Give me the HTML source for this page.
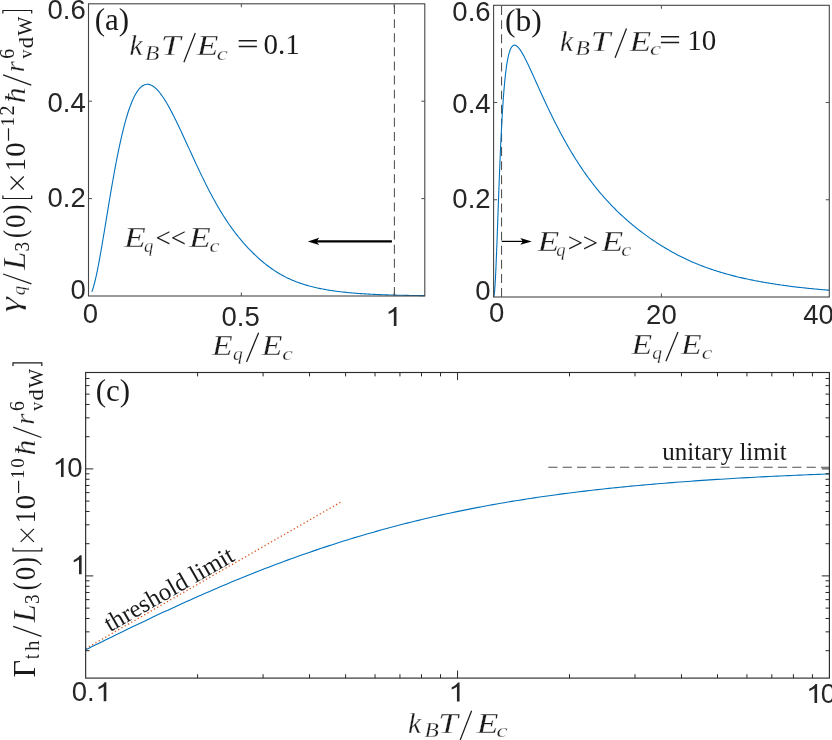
<!DOCTYPE html>
<html><head><meta charset="utf-8"><title>fig</title><style>html,body{margin:0;padding:0;background:#fff}svg{display:block;will-change:transform}</style></head><body>
<svg width="832" height="740" viewBox="0 0 832 740">
<rect width="832" height="740" fill="#fff"/>
<g id="pa">
<path d="M394.4 296 V3.8" stroke="#505050" stroke-width="1.05" stroke-dasharray="8.95 5.15" fill="none"/>
<path d="M91.8 291.74 L92.5 289.89 L93.2 287.75 L93.9 285.37 L94.6 282.74 L95.3 279.9 L96 276.86 L96.7 273.65 L97.4 270.27 L98.09 266.75 L98.79 263.09 L99.49 259.33 L100.19 255.46 L100.89 251.5 L101.59 247.47 L102.29 243.38 L102.99 239.23 L103.69 235.04 L104.39 230.83 L105.09 226.59 L105.79 222.34 L106.48 218.08 L107.18 213.83 L107.88 209.59 L108.58 205.37 L109.28 201.17 L109.98 197.01 L110.68 192.88 L111.38 188.8 L112.08 184.76 L112.78 180.77 L113.48 176.85 L114.18 172.98 L114.87 169.17 L115.57 165.44 L116.27 161.77 L116.97 158.18 L117.67 154.66 L118.37 151.22 L119.07 147.86 L120.09 143.1 L121.11 138.52 L122.14 134.12 L123.16 129.91 L124.18 125.9 L125.2 122.07 L126.23 118.44 L127.25 115 L128.27 111.76 L129.29 108.72 L130.32 105.86 L131.34 103.2 L132.36 100.72 L133.38 98.44 L134.41 96.33 L135.43 94.42 L136.45 92.68 L137.47 91.11 L138.5 89.72 L139.52 88.5 L140.54 87.44 L141.56 86.54 L142.59 85.8 L143.61 85.21 L144.63 84.77 L145.65 84.48 L146.68 84.32 L147.7 84.3 L148.72 84.41 L149.74 84.65 L150.76 85.01 L151.79 85.48 L152.81 86.07 L153.83 86.77 L154.85 87.57 L155.88 88.47 L156.9 89.46 L157.92 90.55 L158.94 91.72 L159.97 92.98 L160.99 94.32 L162.01 95.73 L163.03 97.21 L164.06 98.76 L165.08 100.37 L166.1 102.04 L167.12 103.77 L168.15 105.55 L169.17 107.38 L170.19 109.26 L171.21 111.18 L172.24 113.13 L173.26 115.13 L174.28 117.16 L175.3 119.22 L176.32 121.3 L177.35 123.42 L178.37 125.55 L179.39 127.71 L180.41 129.88 L181.44 132.07 L182.46 134.27 L183.48 136.48 L184.5 138.7 L185.53 140.93 L186.55 143.16 L187.57 145.4 L188.59 147.63 L189.62 149.87 L190.64 152.1 L191.66 154.33 L192.68 156.56 L193.71 158.78 L194.73 160.99 L195.75 163.19 L196.77 165.38 L197.8 167.56 L198.82 169.72 L199.84 171.87 L200.86 174.01 L201.89 176.13 L202.91 178.23 L203.93 180.32 L204.95 182.38 L205.97 184.43 L207 186.45 L208.02 188.46 L209.04 190.44 L210.06 192.4 L211.09 194.34 L212.11 196.25 L213.13 198.14 L214.15 200.01 L215.18 201.85 L216.2 203.67 L217.22 205.46 L218.24 207.23 L219.27 208.97 L220.29 210.68 L221.31 212.37 L222.33 214.03 L223.36 215.67 L224.38 217.28 L225.4 218.87 L226.42 220.42 L227.45 221.96 L228.47 223.47 L229.49 224.95 L230.51 226.41 L231.53 227.84 L232.56 229.25 L233.58 230.64 L234.6 232 L235.62 233.34 L236.65 234.65 L237.67 235.95 L238.69 237.22 L239.71 238.47 L240.74 239.7 L241.76 240.91 L242.78 242.1 L243.8 243.27 L244.83 244.42 L245.85 245.55 L246.87 246.67 L247.89 247.77 L248.92 248.84 L249.94 249.91 L250.96 250.95 L251.98 251.98 L253.01 252.99 L254.03 253.99 L255.05 254.97 L256.07 255.93 L257.1 256.88 L258.12 257.81 L259.14 258.73 L260.16 259.63 L261.18 260.51 L262.21 261.38 L263.23 262.24 L264.25 263.08 L265.27 263.9 L266.3 264.71 L267.32 265.5 L268.34 266.28 L269.36 267.04 L270.39 267.78 L271.41 268.51 L272.43 269.22 L273.45 269.92 L274.48 270.61 L275.5 271.27 L276.52 271.93 L277.54 272.56 L278.57 273.18 L279.59 273.79 L280.61 274.38 L281.63 274.96 L282.66 275.52 L283.68 276.07 L284.7 276.61 L285.72 277.13 L286.74 277.64 L287.77 278.13 L288.79 278.61 L289.81 279.08 L290.83 279.54 L291.86 279.99 L292.88 280.42 L293.9 280.84 L294.92 281.25 L295.95 281.65 L296.97 282.04 L297.99 282.42 L299.01 282.78 L300.04 283.14 L301.06 283.49 L302.08 283.83 L303.1 284.16 L304.13 284.48 L305.15 284.8 L306.17 285.1 L307.19 285.4 L308.22 285.69 L309.24 285.97 L310.26 286.24 L311.28 286.51 L312.31 286.77 L313.33 287.02 L314.35 287.27 L315.37 287.51 L316.39 287.74 L317.42 287.97 L318.44 288.19 L319.46 288.4 L320.48 288.61 L321.51 288.82 L322.53 289.02 L323.55 289.21 L324.57 289.4 L325.6 289.58 L326.62 289.76 L327.64 289.93 L328.66 290.1 L329.69 290.27 L330.71 290.43 L331.73 290.58 L332.75 290.74 L333.78 290.88 L334.8 291.03 L335.82 291.17 L336.84 291.3 L337.87 291.44 L338.89 291.56 L339.91 291.69 L340.93 291.81 L341.95 291.93 L342.98 292.05 L344 292.16 L345.02 292.27 L346.04 292.37 L347.07 292.48 L348.09 292.58 L349.11 292.68 L350.13 292.77 L351.16 292.86 L352.18 292.95 L353.2 293.04 L354.22 293.13 L355.25 293.21 L356.27 293.29 L357.29 293.37 L358.31 293.44 L359.34 293.52 L360.36 293.59 L361.38 293.66 L362.4 293.73 L363.43 293.79 L364.45 293.86 L365.47 293.92 L366.49 293.98 L367.52 294.04 L368.54 294.09 L369.56 294.15 L370.58 294.2 L371.6 294.26 L372.63 294.31 L373.65 294.36 L374.67 294.4 L375.69 294.45 L376.72 294.5 L377.74 294.54 L378.76 294.58 L379.78 294.63 L380.81 294.67 L381.83 294.71 L382.85 294.74 L383.87 294.78 L384.9 294.82 L385.92 294.85 L386.94 294.89 L387.96 294.92 L388.99 294.95 L390.01 294.98 L391.03 295.01 L392.05 295.04 L393.08 295.07 L394.1 295.1 L395.12 295.12 L396.14 295.15 L397.16 295.18 L398.19 295.2 L399.21 295.22 L400.23 295.25 L401.25 295.27 L402.28 295.29 L403.3 295.31 L404.32 295.33 L405.34 295.35 L406.37 295.37 L407.39 295.39 L408.41 295.41 L409.43 295.43 L410.46 295.44 L411.48 295.46 L412.5 295.48 L413.52 295.49 L414.55 295.51 L415.57 295.52 L416.59 295.54 L417.61 295.55 L418.64 295.57 L419.66 295.58 L420.68 295.59 L421.7 295.6 L422.73 295.62 L423.75 295.63 L424.77 295.64" stroke="#0072BD" stroke-width="1.1" fill="none" stroke-linejoin="round"/>
<rect x="88.5" y="3.8" width="336.3" height="292.2" fill="none" stroke="#454545" stroke-width="1.1"/>
<path d="M241.35 296 v-3.5 M241.35 3.8 v3.5 M394.2 296 v-3.5 M394.2 3.8 v3.5 M88.5 198.6 h3.5 M424.8 198.6 h-3.5 M88.5 101.2 h3.5 M424.8 101.2 h-3.5" stroke="#4d4d4d" stroke-width="1.0" fill="none"/>
</g>
<g id="pb">
<path d="M501.55 297 V5.3" stroke="#505050" stroke-width="1.05" stroke-dasharray="8.95 5.15" fill="none"/>
<path d="M493.68 296.96 L493.89 296.48 L494.11 295.49 L494.32 293.99 L494.53 292.01 L494.74 289.55 L494.95 286.64 L495.16 283.32 L495.37 279.6 L495.58 275.53 L495.79 271.13 L496 266.44 L496.21 261.48 L496.42 256.3 L496.64 250.93 L496.85 245.41 L497.06 239.75 L497.27 234 L497.48 228.17 L497.69 222.31 L497.9 216.43 L498.11 210.56 L498.32 204.71 L498.53 198.9 L498.74 193.16 L498.95 187.5 L499.16 181.93 L499.38 176.46 L499.59 171.1 L499.8 165.86 L500.01 160.75 L500.22 155.76 L500.43 150.92 L500.64 146.21 L500.85 141.65 L501.06 137.22 L501.27 132.94 L501.48 128.8 L501.69 124.81 L501.91 120.95 L502.12 117.23 L502.33 113.65 L502.54 110.21 L502.75 106.89 L502.96 103.71 L503.17 100.65 L503.38 97.71 L503.59 94.9 L503.8 92.2 L504.01 89.61 L504.22 87.13 L504.44 84.76 L504.65 82.49 L504.86 80.33 L505.07 78.25 L505.28 76.27 L505.49 74.38 L505.7 72.58 L505.91 70.86 L506.12 69.22 L506.33 67.66 L506.54 66.17 L506.75 64.76 L506.96 63.41 L507.18 62.14 L507.39 60.92 L507.6 59.77 L507.81 58.68 L508.02 57.65 L508.23 56.67 L508.44 55.75 L508.65 54.87 L508.86 54.05 L509.07 53.27 L509.28 52.54 L509.49 51.86 L509.71 51.21 L509.92 50.61 L510.13 50.05 L510.34 49.52 L510.55 49.03 L510.76 48.58 L510.97 48.16 L511.18 47.77 L511.39 47.41 L511.6 47.09 L511.81 46.79 L512.02 46.52 L512.23 46.28 L512.45 46.06 L512.66 45.87 L512.87 45.71 L513.08 45.56 L513.29 45.44 L513.5 45.34 L513.71 45.26 L513.92 45.21 L514.13 45.17 L514.34 45.15 L514.55 45.14 L514.76 45.16 L514.98 45.19 L515.19 45.24 L515.4 45.3 L515.61 45.38 L515.82 45.47 L516.03 45.58 L516.24 45.7 L516.45 45.83 L516.66 45.98 L516.87 46.13 L517.08 46.3 L517.29 46.48 L517.51 46.68 L517.72 46.88 L517.93 47.09 L518.14 47.31 L518.35 47.54 L518.56 47.79 L518.77 48.03 L519.81 49.38 L520.85 50.91 L521.88 52.57 L522.92 54.37 L523.96 56.26 L525 58.24 L526.04 60.3 L527.08 62.41 L528.11 64.57 L529.15 66.77 L530.19 69.01 L531.23 71.26 L532.27 73.54 L533.31 75.83 L534.34 78.13 L535.38 80.44 L536.42 82.75 L537.46 85.06 L538.5 87.36 L539.53 89.66 L540.57 91.95 L541.61 94.23 L542.65 96.5 L543.69 98.75 L544.73 100.99 L545.76 103.22 L546.8 105.43 L547.84 107.63 L548.88 109.81 L549.92 111.97 L550.96 114.11 L551.99 116.23 L553.03 118.33 L554.07 120.42 L555.11 122.48 L556.15 124.52 L557.18 126.54 L558.22 128.55 L559.26 130.53 L560.3 132.49 L561.34 134.43 L562.38 136.35 L563.41 138.25 L564.45 140.13 L565.49 141.98 L566.53 143.82 L567.57 145.63 L568.6 147.43 L569.64 149.2 L570.68 150.96 L571.72 152.69 L572.76 154.4 L573.8 156.09 L574.83 157.77 L575.87 159.42 L576.91 161.05 L577.95 162.66 L578.99 164.26 L580.03 165.83 L581.06 167.39 L582.1 168.92 L583.14 170.44 L584.18 171.94 L585.22 173.42 L586.25 174.88 L587.29 176.33 L588.33 177.75 L589.37 179.16 L590.41 180.55 L591.45 181.92 L592.48 183.28 L593.52 184.62 L594.56 185.94 L595.6 187.25 L596.64 188.54 L597.68 189.82 L598.71 191.08 L599.75 192.32 L600.79 193.55 L601.83 194.76 L602.87 195.96 L603.9 197.14 L604.94 198.31 L605.98 199.47 L607.02 200.61 L608.06 201.73 L609.1 202.85 L610.13 203.95 L611.17 205.04 L612.21 206.11 L613.25 207.17 L614.29 208.22 L615.33 209.26 L616.36 210.28 L617.4 211.3 L618.44 212.3 L619.48 213.29 L620.52 214.27 L621.55 215.24 L622.59 216.2 L623.63 217.14 L624.67 218.08 L625.71 219.01 L626.75 219.93 L627.78 220.83 L628.82 221.73 L629.86 222.62 L630.9 223.5 L631.94 224.37 L632.98 225.23 L634.01 226.08 L635.05 226.92 L636.09 227.75 L637.13 228.58 L638.17 229.4 L639.2 230.2 L640.24 231 L641.28 231.8 L642.32 232.58 L643.36 233.36 L644.4 234.13 L645.43 234.89 L646.47 235.64 L647.51 236.39 L648.55 237.13 L649.59 237.86 L650.62 238.58 L651.66 239.3 L652.7 240.01 L653.74 240.71 L654.78 241.4 L655.82 242.09 L656.85 242.77 L657.89 243.44 L658.93 244.11 L659.97 244.77 L661.01 245.42 L662.05 246.07 L663.08 246.71 L664.12 247.34 L665.16 247.96 L666.2 248.58 L667.24 249.19 L668.27 249.8 L669.31 250.39 L670.35 250.99 L671.39 251.57 L672.43 252.15 L673.47 252.72 L674.5 253.28 L675.54 253.84 L676.58 254.39 L677.62 254.93 L678.66 255.47 L679.7 256 L680.73 256.53 L681.77 257.05 L682.81 257.56 L683.85 258.06 L684.89 258.56 L685.92 259.06 L686.96 259.54 L688 260.02 L689.04 260.5 L690.08 260.96 L691.12 261.43 L692.15 261.88 L693.19 262.33 L694.23 262.78 L695.27 263.21 L696.31 263.65 L697.35 264.07 L698.38 264.49 L699.42 264.91 L700.46 265.32 L701.5 265.72 L702.54 266.12 L703.57 266.52 L704.61 266.9 L705.65 267.29 L706.69 267.66 L707.73 268.04 L708.77 268.4 L709.8 268.77 L710.84 269.12 L711.88 269.48 L712.92 269.83 L713.96 270.17 L714.99 270.51 L716.03 270.84 L717.07 271.17 L718.11 271.5 L719.15 271.82 L720.19 272.13 L721.22 272.44 L722.26 272.75 L723.3 273.06 L724.34 273.36 L725.38 273.65 L726.42 273.94 L727.45 274.23 L728.49 274.52 L729.53 274.8 L730.57 275.07 L731.61 275.35 L732.64 275.62 L733.68 275.88 L734.72 276.14 L735.76 276.4 L736.8 276.66 L737.84 276.91 L738.87 277.16 L739.91 277.41 L740.95 277.65 L741.99 277.89 L743.03 278.13 L744.07 278.36 L745.1 278.59 L746.14 278.82 L747.18 279.04 L748.22 279.26 L749.26 279.48 L750.29 279.7 L751.33 279.91 L752.37 280.12 L753.41 280.33 L754.45 280.54 L755.49 280.74 L756.52 280.94 L757.56 281.14 L758.6 281.33 L759.64 281.53 L760.68 281.72 L761.72 281.91 L762.75 282.09 L763.79 282.28 L764.83 282.46 L765.87 282.64 L766.91 282.81 L767.94 282.99 L768.98 283.16 L770.02 283.33 L771.06 283.5 L772.1 283.66 L773.14 283.83 L774.17 283.99 L775.21 284.15 L776.25 284.31 L777.29 284.46 L778.33 284.62 L779.37 284.77 L780.4 284.92 L781.44 285.07 L782.48 285.22 L783.52 285.36 L784.56 285.5 L785.59 285.65 L786.63 285.79 L787.67 285.92 L788.71 286.06 L789.75 286.19 L790.79 286.33 L791.82 286.46 L792.86 286.59 L793.9 286.72 L794.94 286.84 L795.98 286.97 L797.01 287.09 L798.05 287.21 L799.09 287.33 L800.13 287.45 L801.17 287.57 L802.21 287.68 L803.24 287.8 L804.28 287.91 L805.32 288.02 L806.36 288.13 L807.4 288.24 L808.44 288.35 L809.47 288.46 L810.51 288.56 L811.55 288.67 L812.59 288.77 L813.63 288.87 L814.66 288.97 L815.7 289.07 L816.74 289.17 L817.78 289.26 L818.82 289.36 L819.86 289.45 L820.89 289.54 L821.93 289.64 L822.97 289.73 L824.01 289.82 L825.05 289.9 L826.09 289.99 L827.12 290.08 L828.16 290.16 L829.2 290.25" stroke="#0072BD" stroke-width="1.1" fill="none" stroke-linejoin="round"/>
<rect x="493.6" y="5.3" width="335.7" height="291.7" fill="none" stroke="#454545" stroke-width="1.1"/>
<path d="M661.4 297 v-3.5 M661.4 5.3 v3.5 M493.6 199.76 h3.5 M829.3 199.76 h-3.5 M493.6 102.52 h3.5 M829.3 102.52 h-3.5" stroke="#4d4d4d" stroke-width="1.0" fill="none"/>
</g>
<g id="pc">
<path d="M548.3 467.3 H829.4" stroke="#505050" stroke-width="1.05" stroke-dasharray="9.2 5.15" fill="none"/>
<path d="M85.65 648.6 L340.6 502.2" stroke="#D95319" stroke-width="1.3" stroke-dasharray="1.3 2.45" fill="none"/>
<path d="M85.65 649.76 L89.39 647.91 L93.12 646.07 L96.86 644.23 L100.6 642.39 L104.34 640.55 L108.07 638.72 L111.81 636.89 L115.55 635.07 L119.29 633.25 L123.02 631.43 L126.76 629.62 L130.5 627.82 L134.24 626.02 L137.97 624.22 L141.71 622.44 L145.45 620.66 L149.19 618.88 L152.92 617.12 L156.66 615.36 L160.4 613.61 L164.14 611.86 L167.87 610.13 L171.61 608.4 L175.35 606.69 L179.09 604.98 L182.82 603.28 L186.56 601.59 L190.3 599.91 L194.04 598.24 L197.77 596.58 L201.51 594.93 L205.25 593.29 L208.99 591.66 L212.72 590.04 L216.46 588.43 L220.2 586.84 L223.94 585.25 L227.67 583.68 L231.41 582.11 L235.15 580.56 L238.88 579.02 L242.62 577.5 L246.36 575.98 L250.1 574.48 L253.83 572.99 L257.57 571.51 L261.31 570.05 L265.05 568.59 L268.78 567.15 L272.52 565.72 L276.26 564.31 L280 562.91 L283.73 561.52 L287.47 560.14 L291.21 558.78 L294.95 557.43 L298.68 556.09 L302.42 554.77 L306.16 553.46 L309.9 552.16 L313.63 550.88 L317.37 549.61 L321.11 548.35 L324.85 547.11 L328.58 545.88 L332.32 544.66 L336.06 543.46 L339.8 542.27 L343.53 541.1 L347.27 539.93 L351.01 538.78 L354.75 537.65 L358.48 536.53 L362.22 535.42 L365.96 534.32 L369.7 533.24 L373.43 532.17 L377.17 531.11 L380.91 530.07 L384.64 529.04 L388.38 528.03 L392.12 527.02 L395.86 526.03 L399.59 525.06 L403.33 524.09 L407.07 523.14 L410.81 522.2 L414.54 521.28 L418.28 520.36 L422.02 519.46 L425.76 518.57 L429.49 517.7 L433.23 516.83 L436.97 515.98 L440.71 515.15 L444.44 514.32 L448.18 513.5 L451.92 512.7 L455.66 511.91 L459.39 511.13 L463.13 510.36 L466.87 509.61 L470.61 508.86 L474.34 508.13 L478.08 507.41 L481.82 506.7 L485.56 506 L489.29 505.31 L493.03 504.63 L496.77 503.97 L500.51 503.31 L504.24 502.67 L507.98 502.03 L511.72 501.41 L515.46 500.79 L519.19 500.19 L522.93 499.59 L526.67 499.01 L530.41 498.43 L534.14 497.87 L537.88 497.31 L541.62 496.76 L545.35 496.23 L549.09 495.7 L552.83 495.18 L556.57 494.67 L560.3 494.17 L564.04 493.67 L567.78 493.19 L571.52 492.71 L575.25 492.25 L578.99 491.79 L582.73 491.33 L586.47 490.89 L590.2 490.45 L593.94 490.03 L597.68 489.61 L601.42 489.19 L605.15 488.79 L608.89 488.39 L612.63 487.99 L616.37 487.61 L620.1 487.23 L623.84 486.86 L627.58 486.49 L631.32 486.14 L635.05 485.78 L638.79 485.44 L642.53 485.1 L646.27 484.76 L650 484.44 L653.74 484.11 L657.48 483.8 L661.22 483.49 L664.95 483.18 L668.69 482.88 L672.43 482.59 L676.17 482.3 L679.9 482.01 L683.64 481.73 L687.38 481.46 L691.11 481.19 L694.85 480.92 L698.59 480.66 L702.33 480.41 L706.06 480.15 L709.8 479.91 L713.54 479.66 L717.28 479.42 L721.01 479.19 L724.75 478.96 L728.49 478.73 L732.23 478.51 L735.96 478.29 L739.7 478.07 L743.44 477.86 L747.18 477.66 L750.91 477.45 L754.65 477.25 L758.39 477.05 L762.13 476.86 L765.86 476.67 L769.6 476.48 L773.34 476.3 L777.08 476.12 L780.81 475.94 L784.55 475.77 L788.29 475.6 L792.03 475.43 L795.76 475.27 L799.5 475.11 L803.24 474.95 L806.98 474.8 L810.71 474.65 L814.45 474.5 L818.19 474.35 L821.93 474.21 L825.66 474.07 L829.4 473.94" stroke="#0072BD" stroke-width="1.1" fill="none" stroke-linejoin="round"/>
<rect x="85.65" y="372.5" width="743.75" height="305.6" fill="none" stroke="#2b2b2b" stroke-width="1.15"/>
<path d="M197.6 678.1 v-3.9 M197.6 372.5 v3.9 M263.09 678.1 v-3.9 M263.09 372.5 v3.9 M309.56 678.1 v-3.9 M309.56 372.5 v3.9 M345.6 678.1 v-3.9 M345.6 372.5 v3.9 M375.04 678.1 v-3.9 M375.04 372.5 v3.9 M399.94 678.1 v-3.9 M399.94 372.5 v3.9 M421.51 678.1 v-3.9 M421.51 372.5 v3.9 M440.53 678.1 v-3.9 M440.53 372.5 v3.9 M457.55 678.1 v-7.6 M457.55 372.5 v7.6 M569.5 678.1 v-3.9 M569.5 372.5 v3.9 M634.99 678.1 v-3.9 M634.99 372.5 v3.9 M681.46 678.1 v-3.9 M681.46 372.5 v3.9 M717.5 678.1 v-3.9 M717.5 372.5 v3.9 M746.94 678.1 v-3.9 M746.94 372.5 v3.9 M771.84 678.1 v-3.9 M771.84 372.5 v3.9 M793.41 678.1 v-3.9 M793.41 372.5 v3.9 M812.43 678.1 v-3.9 M812.43 372.5 v3.9 M85.65 650.69 h3.9 M829.4 650.69 h-3.9 M85.65 631.85 h3.9 M829.4 631.85 h-3.9 M85.65 618.48 h3.9 M829.4 618.48 h-3.9 M85.65 608.11 h3.9 M829.4 608.11 h-3.9 M85.65 599.64 h3.9 M829.4 599.64 h-3.9 M85.65 592.47 h3.9 M829.4 592.47 h-3.9 M85.65 586.27 h3.9 M829.4 586.27 h-3.9 M85.65 580.8 h3.9 M829.4 580.8 h-3.9 M85.65 575.9 h7.6 M829.4 575.9 h-7.6 M85.65 543.69 h3.9 M829.4 543.69 h-3.9 M85.65 524.85 h3.9 M829.4 524.85 h-3.9 M85.65 511.48 h3.9 M829.4 511.48 h-3.9 M85.65 501.11 h3.9 M829.4 501.11 h-3.9 M85.65 492.64 h3.9 M829.4 492.64 h-3.9 M85.65 485.47 h3.9 M829.4 485.47 h-3.9 M85.65 479.27 h3.9 M829.4 479.27 h-3.9 M85.65 473.8 h3.9 M829.4 473.8 h-3.9 M85.65 468.9 h7.6 M829.4 468.9 h-7.6 M85.65 436.69 h3.9 M829.4 436.69 h-3.9 M85.65 417.85 h3.9 M829.4 417.85 h-3.9 M85.65 404.48 h3.9 M829.4 404.48 h-3.9 M85.65 394.11 h3.9 M829.4 394.11 h-3.9 M85.65 385.64 h3.9 M829.4 385.64 h-3.9 M85.65 378.47 h3.9 M829.4 378.47 h-3.9" stroke="#262626" stroke-width="1" fill="none"/>
</g>
<g font-family="'Liberation Sans', sans-serif" font-size="27.5" fill="#262626">
<text x="47.47" y="18.5">0.6</text>
<text x="47.47" y="111.8">0.4</text>
<text x="47.47" y="206.8">0.2</text>
<text x="70.41" y="299.2">0</text>
<text x="82.85" y="323.3">0</text>
<text x="221.49" y="326.2">0.5</text>
<path transform="translate(385.35 326) scale(0.01455 -0.01286)" d="M763 0H583V1147Q518 1085 412.5 1023T223 930V1104Q374 1175 487 1276T647 1472H763Z"/>
<text x="452.37" y="20.5">0.6</text>
<text x="452.37" y="112.9">0.4</text>
<text x="452.37" y="207.8">0.2</text>
<text x="475.31" y="300.2">0</text>
<text x="488.95" y="321.8">0</text>
<text x="646.11" y="324">20</text>
<text x="803.3" y="324">40</text>
<path transform="translate(52.51 477) scale(0.01455 -0.01286)" d="M763 0H583V1147Q518 1085 412.5 1023T223 930V1104Q374 1175 487 1276T647 1472H763Z"/>
<text x="67.31" y="477">0</text>
<path transform="translate(70.51 574.2) scale(0.01455 -0.01286)" d="M763 0H583V1147Q518 1085 412.5 1023T223 930V1104Q374 1175 487 1276T647 1472H763Z"/>
<text x="71.8" y="701.2">0.</text>
<path transform="translate(95.23 701.2) scale(0.01455 -0.01286)" d="M763 0H583V1147Q518 1085 412.5 1023T223 930V1104Q374 1175 487 1276T647 1472H763Z"/>
<path transform="translate(448.45 701.4) scale(0.01455 -0.01286)" d="M763 0H583V1147Q518 1085 412.5 1023T223 930V1104Q374 1175 487 1276T647 1472H763Z"/>
<path transform="translate(806 703) scale(0.01455 -0.01286)" d="M763 0H583V1147Q518 1085 412.5 1023T223 930V1104Q374 1175 487 1276T647 1472H763Z"/>
<text x="820.79" y="703">0</text>
</g>
<g fill="#1a1a1a">
<text x="94.64" y="29.5" font-family="'Liberation Serif', serif" font-size="31">(a)</text>
<text x="504.92" y="31" font-family="'Liberation Serif', serif" font-size="31.5">(b)</text>
<text x="95.74" y="401.3" font-family="'Liberation Serif', serif" font-size="31">(c)</text>
<text x="129.45" y="55" font-family="'Liberation Serif', serif" font-size="29.5" font-style="italic" stroke="#fff" stroke-width="0.27">k</text>
<text transform="translate(144.88 59.6) scale(1.0914 1)" font-family="'Liberation Serif', serif" font-size="21.5" font-style="italic" stroke="#fff" stroke-width="0.27">B</text>
<text transform="translate(161.09 55) scale(1.1961 1)" font-family="'Liberation Serif', serif" font-size="29.5" font-style="italic" stroke="#fff" stroke-width="0.27">T</text>
<path d="M183.9 62.23 L195.3 33.02" stroke="#1a1a1a" stroke-width="1.25" fill="none"/>
<text transform="translate(196.82 55) scale(1.2018 1)" font-family="'Liberation Serif', serif" font-size="29.5" font-style="italic" stroke="#fff" stroke-width="0.27">E</text>
<text transform="translate(216.84 59.6) scale(1.2746 1)" font-family="'Liberation Serif', serif" font-size="19.5" font-style="italic" stroke="#fff" stroke-width="0.27">c</text>
<text transform="translate(236.75 54.1) scale(1.3487 1)" font-family="'Liberation Serif', serif" font-size="29">=</text>
<text x="263.5" y="54.1" font-family="'Liberation Serif', serif" font-size="29">0.1</text>
<text x="559.95" y="50.5" font-family="'Liberation Serif', serif" font-size="29.5" font-style="italic" stroke="#fff" stroke-width="0.27">k</text>
<text transform="translate(575.58 55.1) scale(1.0914 1)" font-family="'Liberation Serif', serif" font-size="21.5" font-style="italic" stroke="#fff" stroke-width="0.27">B</text>
<text transform="translate(590.69 50.5) scale(1.1961 1)" font-family="'Liberation Serif', serif" font-size="29.5" font-style="italic" stroke="#fff" stroke-width="0.27">T</text>
<path d="M615.1 57.73 L626.5 28.52" stroke="#1a1a1a" stroke-width="1.25" fill="none"/>
<text transform="translate(629.52 50.5) scale(1.2018 1)" font-family="'Liberation Serif', serif" font-size="29.5" font-style="italic" stroke="#fff" stroke-width="0.27">E</text>
<text transform="translate(650.04 55.1) scale(1.2746 1)" font-family="'Liberation Serif', serif" font-size="19.5" font-style="italic" stroke="#fff" stroke-width="0.27">c</text>
<text transform="translate(658.95 49.6) scale(1.3487 1)" font-family="'Liberation Serif', serif" font-size="29">=</text>
<text x="687.15" y="49.6" font-family="'Liberation Serif', serif" font-size="29">10</text>
<text x="407.95" y="732.7" font-family="'Liberation Serif', serif" font-size="29.5" font-style="italic" stroke="#fff" stroke-width="0.27">k</text>
<text transform="translate(424.58 737.3) scale(1.0914 1)" font-family="'Liberation Serif', serif" font-size="21.5" font-style="italic" stroke="#fff" stroke-width="0.27">B</text>
<text transform="translate(438.29 732.7) scale(1.1961 1)" font-family="'Liberation Serif', serif" font-size="29.5" font-style="italic" stroke="#fff" stroke-width="0.27">T</text>
<path d="M460.2 739.93 L471.6 710.72" stroke="#1a1a1a" stroke-width="1.25" fill="none"/>
<text transform="translate(476.82 732.7) scale(1.2018 1)" font-family="'Liberation Serif', serif" font-size="29.5" font-style="italic" stroke="#fff" stroke-width="0.27">E</text>
<text transform="translate(496.54 737.3) scale(1.2746 1)" font-family="'Liberation Serif', serif" font-size="19.5" font-style="italic" stroke="#fff" stroke-width="0.27">c</text>
<text transform="translate(124.12 246.7) scale(1.2074 1)" font-family="'Liberation Serif', serif" font-size="29.5" font-style="italic" stroke="#fff" stroke-width="0.27">E</text>
<text x="143.98" y="251.9" font-family="'Liberation Serif', serif" font-size="18.7" font-style="italic" stroke="#fff" stroke-width="0.27">q</text>
<text x="155.56" y="247.3" font-family="'Liberation Serif', serif" font-size="27">&lt;&lt;</text>
<text transform="translate(189.02 246.7) scale(1.2074 1)" font-family="'Liberation Serif', serif" font-size="29.5" font-style="italic" stroke="#fff" stroke-width="0.27">E</text>
<text transform="translate(209.51 251.9) scale(1.1835 1)" font-family="'Liberation Serif', serif" font-size="18.9" font-style="italic" stroke="#fff" stroke-width="0.27">c</text>
<text transform="translate(537.42 251) scale(1.2074 1)" font-family="'Liberation Serif', serif" font-size="29.5" font-style="italic" stroke="#fff" stroke-width="0.27">E</text>
<text x="556.28" y="256.2" font-family="'Liberation Serif', serif" font-size="18.7" font-style="italic" stroke="#fff" stroke-width="0.27">q</text>
<text x="567.63" y="251.6" font-family="'Liberation Serif', serif" font-size="27">&gt;&gt;</text>
<text transform="translate(601.42 251) scale(1.2074 1)" font-family="'Liberation Serif', serif" font-size="29.5" font-style="italic" stroke="#fff" stroke-width="0.27">E</text>
<text transform="translate(621.31 256.2) scale(1.1835 1)" font-family="'Liberation Serif', serif" font-size="18.9" font-style="italic" stroke="#fff" stroke-width="0.27">c</text>
<text transform="translate(212 354.7) scale(1.1268 1)" font-family="'Liberation Serif', serif" font-size="30" font-style="italic" stroke="#fff" stroke-width="0.27">E</text>
<text x="232.95" y="359.7" font-family="'Liberation Serif', serif" font-size="19.5" font-style="italic" stroke="#fff" stroke-width="0.27">q</text>
<path d="M246.5 361.93 L258.6 332.72" stroke="#1a1a1a" stroke-width="1.25" fill="none"/>
<text transform="translate(261.7 354.7) scale(1.1268 1)" font-family="'Liberation Serif', serif" font-size="30" font-style="italic" stroke="#fff" stroke-width="0.27">E</text>
<text transform="translate(282.37 359.7) scale(1.2236 1)" font-family="'Liberation Serif', serif" font-size="19.5" font-style="italic" stroke="#fff" stroke-width="0.27">c</text>
<text transform="translate(631.4 354) scale(1.1268 1)" font-family="'Liberation Serif', serif" font-size="30" font-style="italic" stroke="#fff" stroke-width="0.27">E</text>
<text x="652.35" y="359" font-family="'Liberation Serif', serif" font-size="19.5" font-style="italic" stroke="#fff" stroke-width="0.27">q</text>
<path d="M665.9 361.23 L678 332.02" stroke="#1a1a1a" stroke-width="1.25" fill="none"/>
<text transform="translate(681.1 354) scale(1.1268 1)" font-family="'Liberation Serif', serif" font-size="30" font-style="italic" stroke="#fff" stroke-width="0.27">E</text>
<text transform="translate(701.77 359) scale(1.2236 1)" font-family="'Liberation Serif', serif" font-size="19.5" font-style="italic" stroke="#fff" stroke-width="0.27">c</text>
<text x="662.37" y="459.6" font-family="'Liberation Serif', serif" font-size="25">unitary limit</text>
<g transform="translate(110.1 632.2) rotate(-29.8)"><text x="-0.24" y="0" font-family="'Liberation Serif', serif" font-size="24.8">threshold limit</text></g>
</g>
<path d="M391.9 241.4 H316" stroke="#000" stroke-width="2.2" fill="none"/>
<path d="M307.8 241.4 L319.2 237.7 L316.6 241.4 L319.2 245.1 Z" fill="#000"/>
<path d="M501.7 241.4 H524" stroke="#000" stroke-width="1.2" fill="none"/>
<path d="M531.7 241.4 L520.3 238 L522.9 241.4 L520.3 244.8 Z" fill="#000"/>
<g transform="translate(0 311.8) rotate(-90)" fill="#1a1a1a">
<text transform="translate(-0.4 19.92) scale(1.3542 1)" font-family="'Liberation Serif', serif" font-size="28.58" font-style="italic" stroke="#fff" stroke-width="0.27">γ</text>
<text transform="translate(16.58 24.55) scale(0.9851 1)" font-family="'Liberation Serif', serif" font-size="19" font-style="italic" stroke="#fff" stroke-width="0.27">q</text>
<path d="M27.9 31.4 L37.8 3.1" stroke="#1a1a1a" stroke-width="1.25" fill="none" stroke-linecap="butt"/>
<text transform="translate(41.98 24.7) scale(1.0577 1)" font-family="'Liberation Serif', serif" font-size="30.7" font-style="italic" stroke="#fff" stroke-width="0.27">L</text>
<text transform="translate(60.23 29.09) scale(0.9106 1)" font-family="'Liberation Serif', serif" font-size="21.13">3</text>
<text transform="translate(73.92 24.91) scale(0.7696 1)" font-family="'Liberation Serif', serif" font-size="31.87">(</text>
<text transform="translate(83.87 24.62) scale(0.9438 1)" font-family="'Liberation Serif', serif" font-size="28.75">0</text>
<text transform="translate(98.56 24.91) scale(0.8185 1)" font-family="'Liberation Serif', serif" font-size="31.87">)</text>
<path d="M116.4 2.9 H113.3 V31.7 H116.4" stroke="#1a1a1a" stroke-width="1.2" fill="none"/>
<path d="M122.3 10.6 L135.3 23.8" stroke="#1a1a1a" stroke-width="1.2" fill="none" stroke-linecap="butt"/>
<path d="M122.3 23.8 L135.3 10.6" stroke="#1a1a1a" stroke-width="1.2" fill="none" stroke-linecap="butt"/>
<text transform="translate(140.85 24.6) scale(0.8744 1)" font-family="'Liberation Serif', serif" font-size="29.24">1</text>
<text transform="translate(155 25.11) scale(0.9664 1)" font-family="'Liberation Serif', serif" font-size="29.79">0</text>
<path d="M171.1 8.5 L183.5 8.5" stroke="#1a1a1a" stroke-width="1.2" fill="none" stroke-linecap="butt"/>
<text transform="translate(185.48 13.8) scale(0.9674 1)" font-family="'Liberation Serif', serif" font-size="19.09">1</text>
<text transform="translate(196.32 14) scale(1.0010 1)" font-family="'Liberation Serif', serif" font-size="19.94">2</text>
<text transform="translate(208.65 24.7) scale(1.0898 1)" font-family="'Liberation Serif', serif" font-size="29.11" font-style="italic" stroke="#fff" stroke-width="0.27">ħ</text>
<path d="M226.7 31.3 L237 3.1" stroke="#1a1a1a" stroke-width="1.25" fill="none" stroke-linecap="butt"/>
<text transform="translate(239.44 24.3) scale(1.0829 1)" font-family="'Liberation Serif', serif" font-size="26.53" font-style="italic" stroke="#fff" stroke-width="0.27">r</text>
<text transform="translate(253.15 14.01) scale(0.9975 1)" font-family="'Liberation Serif', serif" font-size="19.94">6</text>
<text transform="translate(253.4 32.42) scale(0.9591 1)" font-family="'Liberation Serif', serif" font-size="18.56">v</text>
<text transform="translate(263.59 32.6) scale(1.1080 1)" font-family="'Liberation Serif', serif" font-size="20.18">d</text>
<text transform="translate(276.08 32.48) scale(0.9577 1)" font-family="'Liberation Serif', serif" font-size="21.2">W</text>
<path d="M298.2 2.9 H301.3 V31.7 H298.2" stroke="#1a1a1a" stroke-width="1.2" fill="none"/>
</g>
<g transform="translate(0 676.8) rotate(-90)" fill="#1a1a1a">
<text transform="translate(-0.46 34.9) scale(0.9559 1)" font-family="'Liberation Serif', serif" font-size="31.16">Γ</text>
<text transform="translate(17.74 38.97) scale(0.7226 1)" font-family="'Liberation Serif', serif" font-size="23.22">t</text>
<text transform="translate(25.79 38.9) scale(1.0273 1)" font-family="'Liberation Serif', serif" font-size="20.61">h</text>
<path d="M40.5 41.5 L50.4 13.2" stroke="#1a1a1a" stroke-width="1.25" fill="none" stroke-linecap="butt"/>
<text transform="translate(54.58 34.8) scale(1.0577 1)" font-family="'Liberation Serif', serif" font-size="30.7" font-style="italic" stroke="#fff" stroke-width="0.27">L</text>
<text transform="translate(72.83 39.19) scale(0.9106 1)" font-family="'Liberation Serif', serif" font-size="21.13">3</text>
<text transform="translate(86.52 35.01) scale(0.7696 1)" font-family="'Liberation Serif', serif" font-size="31.87">(</text>
<text transform="translate(96.47 34.72) scale(0.9438 1)" font-family="'Liberation Serif', serif" font-size="28.75">0</text>
<text transform="translate(111.16 35.01) scale(0.8185 1)" font-family="'Liberation Serif', serif" font-size="31.87">)</text>
<path d="M129 13 H125.9 V41.8 H129" stroke="#1a1a1a" stroke-width="1.2" fill="none"/>
<path d="M134.9 20.7 L147.9 33.9" stroke="#1a1a1a" stroke-width="1.2" fill="none" stroke-linecap="butt"/>
<path d="M134.9 33.9 L147.9 20.7" stroke="#1a1a1a" stroke-width="1.2" fill="none" stroke-linecap="butt"/>
<text transform="translate(153.45 34.7) scale(0.8744 1)" font-family="'Liberation Serif', serif" font-size="29.24">1</text>
<text transform="translate(167.6 35.21) scale(0.9664 1)" font-family="'Liberation Serif', serif" font-size="29.79">0</text>
<path d="M183.7 18.6 L196.1 18.6" stroke="#1a1a1a" stroke-width="1.2" fill="none" stroke-linecap="butt"/>
<text transform="translate(198.08 23.9) scale(0.9674 1)" font-family="'Liberation Serif', serif" font-size="19.09">1</text>
<text transform="translate(209.08 23.91) scale(0.9649 1)" font-family="'Liberation Serif', serif" font-size="19.56">0</text>
<text transform="translate(221.25 34.8) scale(1.0898 1)" font-family="'Liberation Serif', serif" font-size="29.11" font-style="italic" stroke="#fff" stroke-width="0.27">ħ</text>
<path d="M239.3 41.4 L249.6 13.2" stroke="#1a1a1a" stroke-width="1.25" fill="none" stroke-linecap="butt"/>
<text transform="translate(252.04 34.4) scale(1.0829 1)" font-family="'Liberation Serif', serif" font-size="26.53" font-style="italic" stroke="#fff" stroke-width="0.27">r</text>
<text transform="translate(265.75 24.11) scale(0.9975 1)" font-family="'Liberation Serif', serif" font-size="19.94">6</text>
<text transform="translate(266 42.52) scale(0.9591 1)" font-family="'Liberation Serif', serif" font-size="18.56">v</text>
<text transform="translate(276.19 42.7) scale(1.1080 1)" font-family="'Liberation Serif', serif" font-size="20.18">d</text>
<text transform="translate(288.68 42.58) scale(0.9577 1)" font-family="'Liberation Serif', serif" font-size="21.2">W</text>
<path d="M310.8 13 H313.9 V41.8 H310.8" stroke="#1a1a1a" stroke-width="1.2" fill="none"/>
</g>
</svg>
</body></html>
